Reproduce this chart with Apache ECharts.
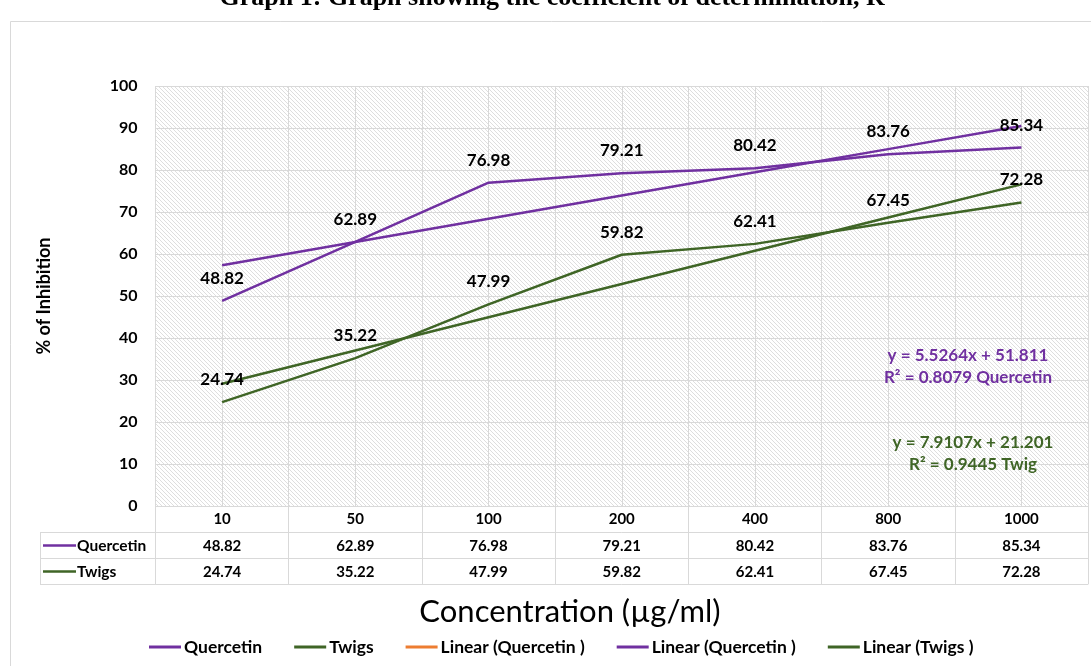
<!DOCTYPE html>
<html>
<head>
<meta charset="utf-8">
<script src="https://cdn.jsdelivr.net/npm/echarts@6/dist/echarts.min.js"></script>
<style>
html,body{margin:0;padding:0;background:#fff;}
#chart{width:1091px;height:666px;}
</style>
</head>
<body>
<div id="chart"></div>
<script>
// ---- data ----
const categories = ['10', '50', '100', '200', '400', '800', '1000'];
const quercetin = [48.82, 62.89, 76.98, 79.21, 80.42, 83.76, 85.34];
const twigs = [24.74, 35.22, 47.99, 59.82, 62.41, 67.45, 72.28];
// trendline values (linear fits shown on chart)
const quercetinTrend = [57.34, 62.86, 68.39, 73.92, 79.44, 84.97, 90.50];
const twigsTrend = [29.11, 37.02, 44.93, 52.84, 60.76, 68.67, 76.58];
const yTicks = { min: 0, max: 100, interval: 10 };
const seriesNames = ['Quercetin', 'Twigs'];
const legendNames = ['Quercetin', 'Twigs', 'Linear (Quercetin )', 'Linear (Quercetin )', 'Linear (Twigs )'];
const quercetinEq = ['y = 5.5264x + 51.811', 'R² = 0.8079 Quercetin'];
const twigsEq = ['y = 7.9107x + 21.201', 'R² = 0.9445 Twig'];
const titleText = 'Graph 1: Graph showing the coefficient of determination, R²';
const xTitle = 'Concentration (µg/ml)';
const yTitle = '% of Inhibition';

// ---- styles ----
const PURPLE = '#7030A0';
const GREEN = '#3F6526';
const ORANGE = '#ED7D31';
const GRIDC = '#d9d9d9';
const FONT = 'Lato, "Open Sans", sans-serif';

const pc = document.createElement('canvas');
pc.width = 4; pc.height = 4;
const pctx = pc.getContext('2d');
pctx.fillStyle = '#ffffff'; pctx.fillRect(0, 0, 4, 4);
pctx.fillStyle = '#dedede';
for (let i = 0; i < 4; i++) pctx.fillRect(i, i, 1, 1);

const chart = echarts.init(document.getElementById('chart'), null, { renderer: 'canvas' });

const seriesIds = ['q', 't', 'lo', 'lq', 'lt'];
const idToName = {};
seriesIds.forEach((id, i) => idToName[id] = legendNames[i]);

const tableRowAxis = (vals, offset) => ({
  type: 'category', data: categories, position: 'bottom', offset: offset,
  axisLine: { show: true, lineStyle: { color: GRIDC, width: 1 } },
  axisTick: { show: false },
  axisLabel: { margin: 6, color: '#000', fontFamily: FONT, fontWeight: 'bold', fontSize: 15,
    formatter: (v, idx) => vals ? String(vals[idx].toFixed(2)) : v },
  splitLine: { show: false }
});

const dataLabel = { show: true, position: 'top', distance: 14, color: '#000', fontFamily: FONT, fontWeight: 'bold', fontSize: 17,
  formatter: p => p.value.toFixed(2) };

const option = {
  backgroundColor: '#fff',
  animation: false,
  grid: {
    left: 155.5, right: 3, top: 86, bottom: 160,
    show: true, borderWidth: 0,
    backgroundColor: { image: pc, repeat: 'repeat' }
  },
  legend: {
    bottom: 5, left: 144,
    icon: 'rect', itemWidth: 32, itemHeight: 3, itemGap: 32,
    data: seriesIds,
    formatter: (name) => idToName[name],
    textStyle: { fontFamily: FONT, fontWeight: 'bold', fontSize: 17.5, color: '#000', padding: [0, 0, 0, -2] }
  },
  xAxis: [
    {
      type: 'category', data: categories, position: 'bottom', boundaryGap: true,
      axisLine: { show: true, lineStyle: { color: GRIDC, width: 1 } },
      axisTick: { show: true, interval: 0, length: 78, lineStyle: { color: GRIDC } },
      axisLabel: { margin: 6, color: '#000', fontFamily: FONT, fontWeight: 'bold', fontSize: 15, interval: 0 },
      splitLine: { show: false }
    },
    tableRowAxis(quercetin, 26.5),
    tableRowAxis(twigs, 52.5),
    {
      type: 'category', data: categories, position: 'bottom', offset: 78,
      axisLine: { show: true, lineStyle: { color: GRIDC } },
      axisTick: { show: false }, axisLabel: { show: false }
    },
    {
      type: 'value', position: 'top', min: 0, max: 14, interval: 1,
      axisLine: { show: false }, axisTick: { show: false }, axisLabel: { show: false },
      splitLine: { show: true, lineStyle: { color: GRIDC, width: 1 } }
    }
  ],
  yAxis: {
    type: 'value', min: yTicks.min, max: yTicks.max, interval: yTicks.interval,
    name: yTitle, nameLocation: 'middle', nameRotate: 90, nameGap: 102,
    nameTextStyle: { fontFamily: FONT, fontWeight: 'bold', fontSize: 18, color: '#000' },
    axisLine: { show: false }, axisTick: { show: false },
    axisLabel: { margin: 18, color: '#000', fontFamily: FONT, fontWeight: 'bold', fontSize: 16 },
    splitLine: { show: true, lineStyle: { color: GRIDC, width: 1 } }
  },
  series: [
    {
      id: 'q', name: 'q', type: 'line', data: quercetin, xAxisIndex: 0,
      symbol: 'circle', symbolSize: 0.01, showSymbol: true,
      lineStyle: { color: PURPLE, width: 2.5 }, itemStyle: { color: PURPLE },
      label: dataLabel, z: 3
    },
    {
      id: 't', name: 't', type: 'line', data: twigs, xAxisIndex: 0,
      symbol: 'circle', symbolSize: 0.01, showSymbol: true,
      lineStyle: { color: GREEN, width: 2.5 }, itemStyle: { color: GREEN },
      label: dataLabel, z: 3
    },
    {
      id: 'lo', name: 'lo', type: 'line', data: [], xAxisIndex: 0, symbol: 'none',
      lineStyle: { color: ORANGE, width: 2.5 }, itemStyle: { color: ORANGE }
    },
    {
      id: 'lq', name: 'lq', type: 'line', data: quercetinTrend, xAxisIndex: 0, symbol: 'none',
      lineStyle: { color: PURPLE, width: 2.5 }, itemStyle: { color: PURPLE }, z: 2
    },
    {
      id: 'lt', name: 'lt', type: 'line', data: twigsTrend, xAxisIndex: 0, symbol: 'none',
      lineStyle: { color: GREEN, width: 2.5 }, itemStyle: { color: GREEN }, z: 2
    }
  ],
  graphic: [
    // outer chart border
    { type: 'rect', shape: { x: 10.5, y: 21.5, width: 1200, height: 800 }, style: { fill: 'none', stroke: GRIDC, lineWidth: 1 }, silent: true, z: -10 },
    // title (clipped at top)
    { type: 'text', x: 556, y: 11, style: { text: titleText, font: 'bold 26px "Liberation Serif", "Times New Roman", serif', fill: '#000', textAlign: 'center', textVerticalAlign: 'bottom' } },
    // table row-header borders
    { type: 'line', shape: { x1: 40, y1: 532.5, x2: 155.5, y2: 532.5 }, style: { stroke: GRIDC, lineWidth: 1 } },
    { type: 'line', shape: { x1: 40, y1: 558.5, x2: 155.5, y2: 558.5 }, style: { stroke: GRIDC, lineWidth: 1 } },
    { type: 'line', shape: { x1: 40, y1: 584.5, x2: 155.5, y2: 584.5 }, style: { stroke: GRIDC, lineWidth: 1 } },
    { type: 'line', shape: { x1: 40.5, y1: 532.5, x2: 40.5, y2: 584.5 }, style: { stroke: GRIDC, lineWidth: 1 } },
    // row keys
    { type: 'line', shape: { x1: 43, y1: 545.5, x2: 76, y2: 545.5 }, style: { stroke: PURPLE, lineWidth: 2.5 } },
    { type: 'text', x: 77, y: 545.5, style: { text: seriesNames[0], font: 'bold 15.5px ' + FONT, fill: '#000', textVerticalAlign: 'middle' } },
    { type: 'line', shape: { x1: 43, y1: 571.5, x2: 76, y2: 571.5 }, style: { stroke: GREEN, lineWidth: 2.5 } },
    { type: 'text', x: 77, y: 571.5, style: { text: seriesNames[1], font: 'bold 15.5px ' + FONT, fill: '#000', textVerticalAlign: 'middle' } },
    // trendline equations
    { type: 'text', x: 968, y: 356, style: { text: quercetinEq[0], font: 'bold 17px ' + FONT, fill: PURPLE, textAlign: 'center', textVerticalAlign: 'middle' }, z: 10 },
    { type: 'text', x: 968, y: 378, style: { text: quercetinEq[1], font: 'bold 17px ' + FONT, fill: PURPLE, textAlign: 'center', textVerticalAlign: 'middle' }, z: 10 },
    { type: 'text', x: 973, y: 443, style: { text: twigsEq[0], font: 'bold 17px ' + FONT, fill: GREEN, textAlign: 'center', textVerticalAlign: 'middle' }, z: 10 },
    { type: 'text', x: 973, y: 465, style: { text: twigsEq[1], font: 'bold 17px ' + FONT, fill: GREEN, textAlign: 'center', textVerticalAlign: 'middle' }, z: 10 },
    // x axis title
    { type: 'text', x: 570, y: 612, style: { text: xTitle, font: '31px ' + FONT, fill: '#000', textAlign: 'center', textVerticalAlign: 'middle' } }
  ]
};
chart.setOption(option);
</script>
</body>
</html>
